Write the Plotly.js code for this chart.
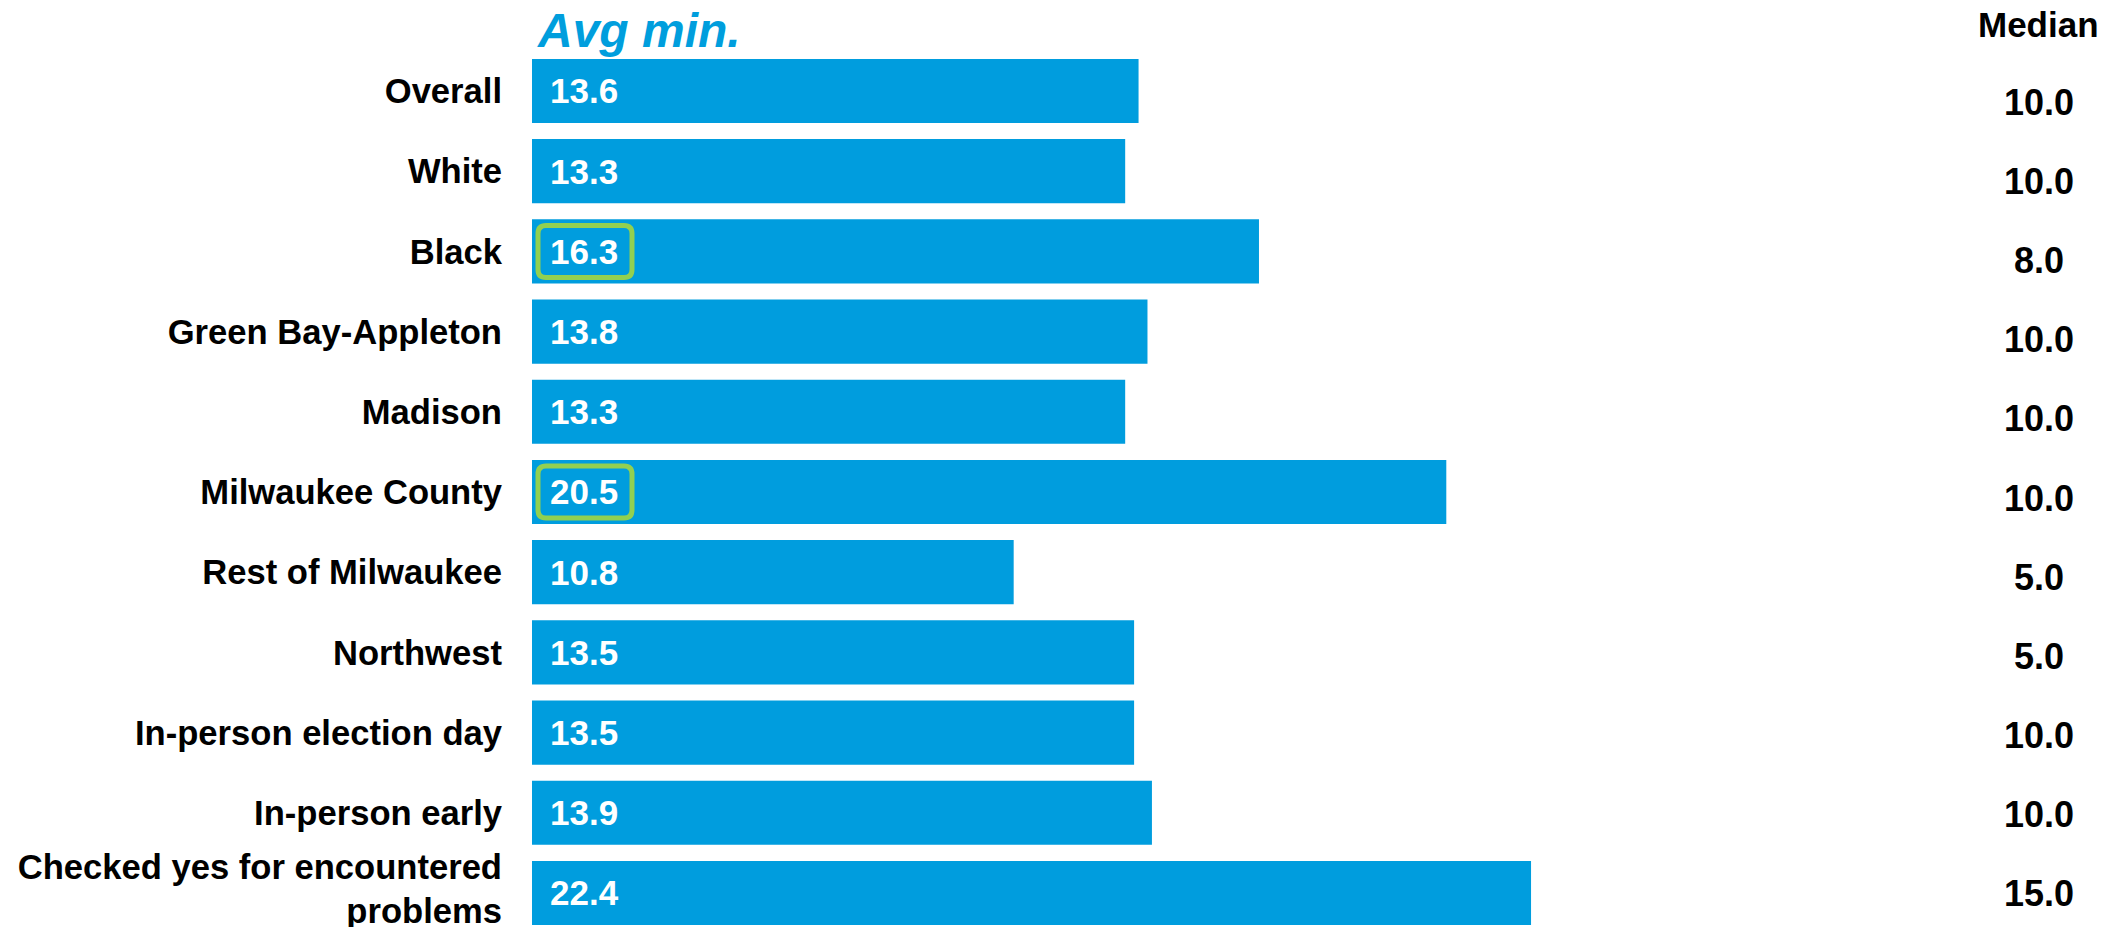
<!DOCTYPE html>
<html>
<head>
<meta charset="utf-8">
<script src="https://cdn.plot.ly/plotly-3.0.1.min.js"></script>
<style>html,body{margin:0;padding:0;background:#fff;}#chart{width:2114px;height:927px;}</style>
</head>
<body>
<div id="chart"></div>
<script>
const categories = ["Overall","White","Black","Green Bay-Appleton","Madison","Milwaukee County","Rest of Milwaukee","Northwest","In-person election day","In-person early","Checked yes for encountered<br>problems"];
const avgMinutes = [13.6,13.3,16.3,13.8,13.3,20.5,10.8,13.5,13.5,13.9,22.4];
const medianMinutes = [10.0,10.0,8.0,10.0,10.0,10.0,5.0,5.0,10.0,10.0,15.0];
const highlighted = ["Black","Milwaukee County"];
const seriesTitle = "Avg min.";
const medianTitle = "Median";

const FONT = "Liberation Sans, Arial, Helvetica, sans-serif";
const BLUE = "#009DDE";
const GREEN = "#92D050";

const trace = {
  type: "bar",
  orientation: "h",
  y: categories,
  x: avgMinutes,
  marker: {color: BLUE},
  hoverinfo: "skip",
  showlegend: false
};

const annotations = [];
categories.forEach((c, i) => {
  annotations.push({
    x: 0, y: c, xref: "x", yref: "y",
    text: avgMinutes[i].toFixed(1), showarrow: false,
    xanchor: "left", yanchor: "middle", xshift: 16,
    font: {family: FONT, size: 35, color: "#ffffff", weight: "bold"}
  });
  annotations.push({
    x: 0.9654, y: c, xref: "paper", yref: "y2",
    text: medianMinutes[i].toFixed(1), showarrow: false,
    xanchor: "center", yanchor: "middle",
    font: {family: FONT, size: 36, color: "#000000", weight: "bold"}
  });
});
annotations.push({
  x: 0, y: 1.022, xref: "paper", yref: "paper",
  text: seriesTitle, showarrow: false, xanchor: "left", yanchor: "middle", xshift: 3,
  font: {family: FONT, size: 48, color: "#009EDD", weight: "bold", style: "italic"}
});
annotations.push({
  x: 0.9654, y: 1.029, xref: "paper", yref: "paper",
  text: medianTitle, showarrow: false, xanchor: "center", yanchor: "middle",
  font: {family: FONT, size: 35, color: "#000000", weight: "bold"}
});

const boxPath = "M 14,-26 L 92,-26 Q 100,-26 100,-18 L 100,18 Q 100,26 92,26 L 14,26 Q 6,26 6,18 L 6,-18 Q 6,-26 14,-26 Z";
const shapes = highlighted.map(c => ({
  type: "path", xref: "x", yref: "y",
  xsizemode: "pixel", ysizemode: "pixel",
  xanchor: 0, yanchor: c,
  path: boxPath,
  line: {color: GREEN, width: 5},
  fillcolor: "rgba(0,0,0,0)",
  layer: "above"
}));

const layout = {
  width: 2114, height: 927,
  margin: {l: 532, r: 21, t: 50, b: 0, pad: 0},
  paper_bgcolor: "#ffffff", plot_bgcolor: "#ffffff",
  bargap: 0.2,
  xaxis: {range: [0, 35], visible: false, fixedrange: true},
  yaxis: {
    type: "category", autorange: false, range: [10.424, -0.511],
    categoryorder: "array", categoryarray: categories,
    showgrid: false, zeroline: false, showline: false, ticks: "",
    ticklabelstandoff: 29,
    tickfont: {family: FONT, size: 34.6, color: "#000000", weight: "bold"}
  },
  yaxis2: {
    type: "category", overlaying: "y", autorange: false, range: [10.423, -0.664],
    categoryorder: "array", categoryarray: categories,
    visible: false, showgrid: false, zeroline: false
  },
  annotations: annotations,
  shapes: shapes,
  showlegend: false
};

Plotly.newPlot("chart", [trace], layout, {displayModeBar: false, staticPlot: true}).then(gd => {
  // nudge multi-line category labels slightly upward so the last line stays in view
  gd.querySelectorAll(".ytick text").forEach(t => {
    const lines = t.querySelectorAll("tspan.line");
    if (lines.length > 1) {
      const d0 = parseFloat(lines[0].getAttribute("dy") || "0");
      const d1 = parseFloat(lines[1].getAttribute("dy") || "1.3");
      const newGap = 1.26;
      const shift = (d1 - d0 - newGap) / 2 - 0.12;
      lines[0].setAttribute("dy", (d0 + shift) + "em");
      lines[1].setAttribute("dy", (d0 + shift + newGap) + "em");
    }
  });
});
</script>
</body>
</html>
